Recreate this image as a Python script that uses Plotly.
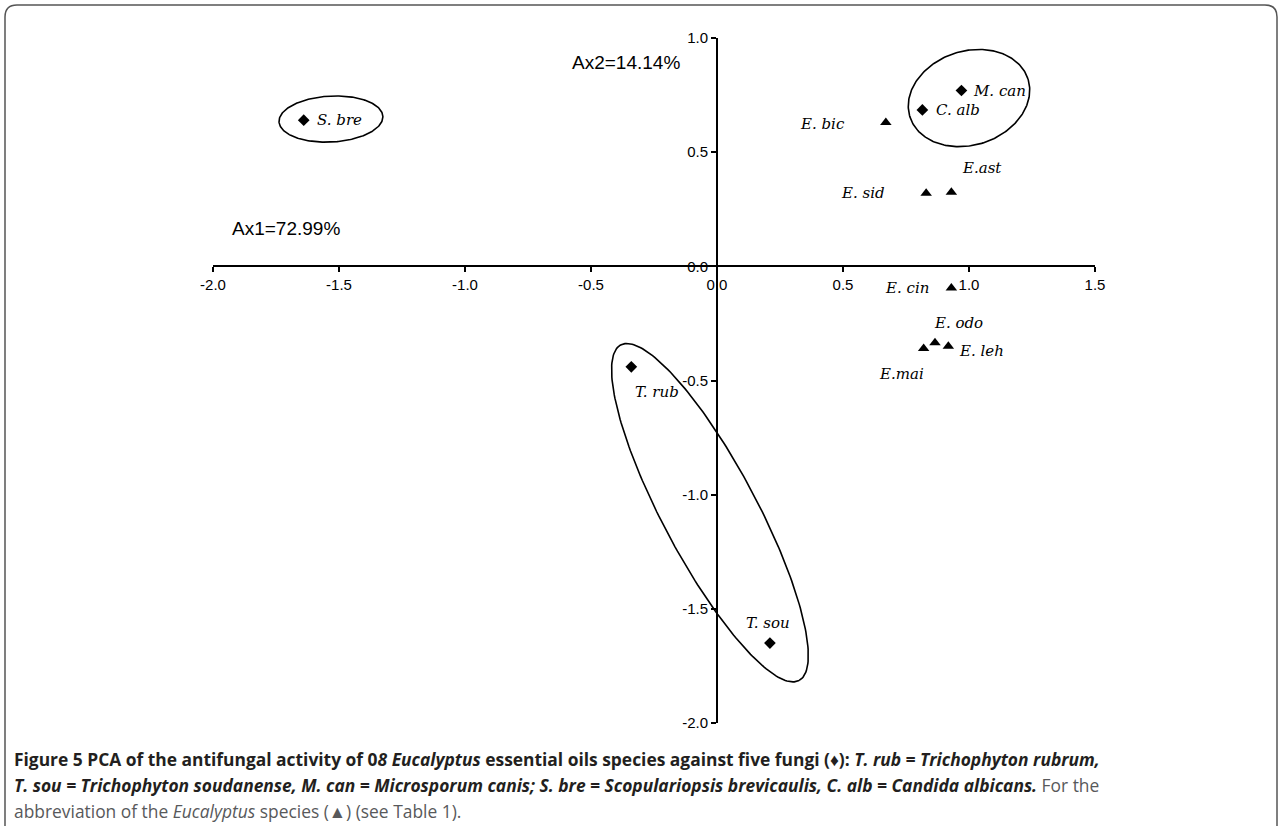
import numpy as np
import plotly.graph_objects as go

# ---------------- DATA ----------------
fungi_names = ["T. rub", "T. sou", "M. can", "S. bre", "C. alb"]
fungi_ax1 = [-0.34, 0.21, 0.97, -1.64, 0.815]
fungi_ax2 = [-0.44, -1.65, 0.77, 0.64, 0.685]

species_names = ["E. bic", "E. sid", "E.ast", "E. cin", "E. odo", "E. leh", "E.mai"]
species_ax1 = [0.67, 0.83, 0.93, 0.93, 0.865, 0.918, 0.82]
species_ax2 = [0.63, 0.32, 0.325, -0.095, -0.335, -0.35, -0.36]

x_tickvals = [-2.0, -1.5, -1.0, -0.5, 0.0, 0.5, 1.0, 1.5]
x_ticktext = ["-2.0", "-1.5", "-1.0", "-0.5", "0.0", "0.5", "1.0", "1.5"]
y_tickvals = [-2.0, -1.5, -1.0, -0.5, 0.0, 0.5, 1.0]
y_ticktext = ["-2.0", "-1.5", "-1.0", "-0.5", "0.0", "0.5", "1.0"]

axis_inertia_labels = ["Ax1=72.99%", "Ax2=14.14%"]

# group ellipses (centre in data units, semi-axes in px, rotation in degrees)
ellipse_cx = [1.0, -1.532, -0.028]
ellipse_cy = [0.737, 0.645, -1.079]
ellipse_a = [62, 52, 190]
ellipse_b = [47, 23, 47]
ellipse_angle = [18, 3, -62]

# ---------------- LAYOUT GEOMETRY ----------------
W, H = 1282, 826
L, R, T, B = 213, 187, 38, 103
PW, PH = W - L - R, H - T - B
XR = [-2.0, 1.5]
YR = [-2.0, 1.0]
PXX = PW / (XR[1] - XR[0])
PXY = PH / (YR[1] - YR[0])


def pp(px, py):
    return (px - L) / PW, (H - B - py) / PH


def ellipse(cx, cy, a, b, ang):
    t = np.linspace(0, 2 * np.pi, 240)
    th = np.radians(ang)
    dx = a * np.cos(t) * np.cos(th) - b * np.sin(t) * np.sin(th)
    dy = a * np.cos(t) * np.sin(th) + b * np.sin(t) * np.cos(th)
    return cx + dx / PXX, cy + dy / PXY


fig = go.Figure()

for cx, cy, a, b, ang in zip(ellipse_cx, ellipse_cy, ellipse_a, ellipse_b, ellipse_angle):
    ex, ey = ellipse(cx, cy, a, b, ang)
    fig.add_trace(go.Scatter(x=ex, y=ey, mode="lines",
                             line=dict(color="black", width=1.6),
                             hoverinfo="skip", showlegend=False))

fig.add_trace(go.Scatter(x=fungi_ax1, y=fungi_ax2, mode="markers",
                         marker=dict(symbol="diamond", size=9, color="black"),
                         showlegend=False, text=fungi_names))
fig.add_trace(go.Scatter(x=species_ax1, y=species_ax2, mode="markers",
                         marker=dict(symbol="triangle-up", size=10, color="black"),
                         showlegend=False, text=species_names))

label_font = dict(family="DejaVu Serif", size=15, color="black")
fungi_offsets = {
    "T. rub": ("left", 2, -25),
    "T. sou": ("center", -2, 20),
    "M. can": ("left", 10, 0),
    "S. bre": ("left", 11, 0),
    "C. alb": ("left", 12, 0),
}
species_offsets = {
    "E. bic": ("right", -39, -2),
    "E. sid": ("right", -39, 0),
    "E.ast": ("left", 9, 24),
    "E. cin": ("right", -20, 0),
    "E. odo": ("left", -3, 20),
    "E. leh": ("left", 9, -5),
    "E.mai": ("center", -22, -25),
}
for names, xs, ys, offs in [(fungi_names, fungi_ax1, fungi_ax2, fungi_offsets),
                            (species_names, species_ax1, species_ax2, species_offsets)]:
    for n, x, y in zip(names, xs, ys):
        xa, xs_, ys_ = offs[n]
        fig.add_annotation(x=x, y=y, xref="x", yref="y", text="<i>" + n + "</i>",
                           showarrow=False, xanchor=xa, yanchor="middle",
                           xshift=xs_, yshift=ys_, font=label_font)

# axis inertia labels
ax_font = dict(family="Liberation Sans, Arial", size=19, color="black")
ax1x, ax1y = pp(230, 228)
ax2x, ax2y = pp(570, 63)
fig.add_annotation(x=ax1x, y=ax1y, xref="paper", yref="paper", text=axis_inertia_labels[0],
                   showarrow=False, xanchor="left", yanchor="middle", font=ax_font)
fig.add_annotation(x=ax2x, y=ax2y, xref="paper", yref="paper", text=axis_inertia_labels[1],
                   showarrow=False, xanchor="left", yanchor="middle", font=ax_font)

# caption
cap_font = dict(family="Open Sans", size=17.4, color="#231f20")
cap_lines = [
    "<b>Figure 5 PCA of the antifungal activity of 0<i>8 Eucalyptus</i> essential oils species against five fungi (♦): <i>T. rub = Trichophyton rubrum,</i></b>",
    "<b><i>T. sou = Trichophyton soudanense, M. can = Microsporum canis; S. bre = Scopulariopsis brevicaulis, C. alb = Candida albicans.</i></b><span style='color:#58595b'> For the</span>",
    "<span style='color:#58595b'>abbreviation of the <i>Eucalyptus</i> species (▲) (see Table 1).</span>",
]
for i, line in enumerate(cap_lines):
    cx, cy = pp(12, 759 + 26 * i)
    fig.add_annotation(x=cx, y=cy, xref="paper", yref="paper", text=line, showarrow=False,
                       xanchor="left", yanchor="middle", font=cap_font)

# rounded border
def P(px, py):
    a, b = pp(px, py)
    return f"{a:.5f},{b:.5f}"

border = (f"M {P(5, 900)} L {P(5, 17)} Q {P(5, 5)} {P(17, 5)} L {P(1265, 5)} "
          f"Q {P(1277, 5)} {P(1277, 17)} L {P(1277, 900)}")
fig.add_shape(type="path", path=border, xref="paper", yref="paper",
              line=dict(color="#555555", width=1.5))

tickfont = dict(family="Liberation Sans, Arial", size=15, color="black")
fig.update_xaxes(range=XR, anchor="free", position=(0 - YR[0]) / (YR[1] - YR[0]),
                 showline=True, linecolor="black", linewidth=2, ticks="outside",
                 ticklen=5, tickwidth=2, tickcolor="black", tickvals=x_tickvals,
                 ticktext=x_ticktext, tickfont=tickfont, showgrid=False, zeroline=False)
fig.update_yaxes(range=YR, anchor="free", position=(0 - XR[0]) / (XR[1] - XR[0]),
                 showline=True, linecolor="black", linewidth=2, ticks="outside",
                 ticklen=5, tickwidth=2, tickcolor="black", tickvals=y_tickvals,
                 ticktext=y_ticktext, tickfont=tickfont, showgrid=False, zeroline=False)

fig.update_layout(width=W, height=H, autosize=False,
                  margin=dict(l=L, r=R, t=T, b=B),
                  paper_bgcolor="white", plot_bgcolor="white", showlegend=False)

fig.write_html("out.html", config={"displayModeBar": False},
               post_script="document.body.style.margin='0';document.body.style.overflow='hidden';")
